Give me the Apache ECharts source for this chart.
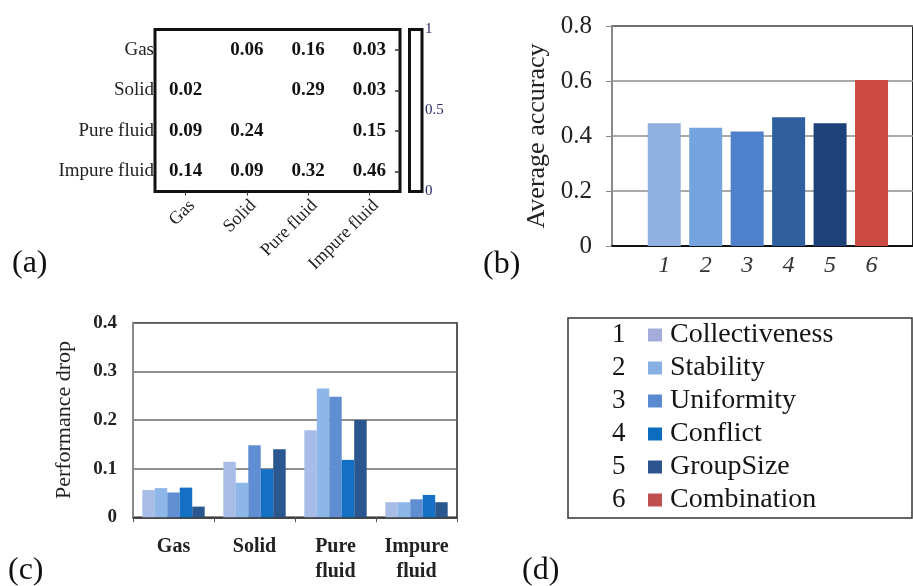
<!DOCTYPE html>
<html>
<head>
<meta charset="utf-8">
<script src="https://cdn.jsdelivr.net/npm/echarts@6/dist/echarts.min.js"></script>
<style>
  html, body { margin: 0; padding: 0; background: #fff; }
  #main { width: 913px; height: 586px; }
</style>
</head>
<body>
<div id="main"></div>
<script>
// (a) confusion matrix
var states = ['Gas', 'Solid', 'Pure fluid', 'Impure fluid'];
var confusion = [
    [null, 0.06, 0.16, 0.03],
    [0.02, null, 0.29, 0.03],
    [0.09, 0.24, null, 0.15],
    [0.14, 0.09, 0.32, 0.46]
];

// (b) average accuracy
var featureIds = [1, 2, 3, 4, 5, 6];
var featureNames = ['Collectiveness', 'Stability', 'Uniformity', 'Conflict', 'GroupSize', 'Combination'];
var accuracy = [0.446, 0.430, 0.416, 0.468, 0.446, 0.604];

// (c) performance drop per state
var stateLabels = ['Gas', 'Solid', 'Pure\nfluid', 'Impure\nfluid'];
var dropCollectiveness = [0.056, 0.114, 0.179, 0.031];
var dropStability = [0.060, 0.071, 0.265, 0.031];
var dropUniformity = [0.051, 0.148, 0.248, 0.037];
var dropConflict = [0.061, 0.099, 0.118, 0.046];
var dropGroupSize = [0.022, 0.140, 0.200, 0.031];

var colorsB = ['#8fb0e0', '#74a3de', '#4f80cc', '#2f5f9f', '#1f4179', '#cb4a42'];
var colorsC = ['#a7bce6', '#8db6e9', '#5f8fd2', '#1470c4', '#2b5790'];
var colorsLegend = ['#a3acdb', '#84b0e4', '#5a8ad0', '#0b6cc0', '#2c5590', '#c05050'];

var serif = '"Liberation Serif", "DejaVu Serif", serif';

var myChart = echarts.init(document.getElementById('main'));

var heatData = [];
confusion.forEach(function (row, r) {
    row.forEach(function (v, c) {
        if (v !== null) heatData.push([c, r, v]);
    });
});

var dropSeries = [dropCollectiveness, dropStability, dropUniformity, dropConflict, dropGroupSize];

var series = [{
    type: 'heatmap',
    xAxisIndex: 0,
    yAxisIndex: 0,
    data: heatData,
    label: {
        show: true,
        fontFamily: serif,
        fontWeight: 'bold',
        fontSize: 19,
        color: '#111',
        formatter: function (p) { return p.value[2].toFixed(2); }
    }
}, {
    // empty series so the colour bar axes get drawn
    type: 'line',
    xAxisIndex: 1,
    yAxisIndex: 1,
    data: []
}, {
    // empty series for the right-hand ticks of the matrix
    type: 'line',
    xAxisIndex: 0,
    yAxisIndex: 4,
    data: []
}];

featureNames.forEach(function (name, i) {
    series.push({
        name: name,
        type: 'bar',
        xAxisIndex: 2,
        yAxisIndex: 2,
        stack: 'acc',
        barWidth: 33,
        itemStyle: { color: colorsB[i] },
        data: [[featureIds[i], accuracy[i]]]
    });
});

dropSeries.forEach(function (vals, i) {
    series.push({
        name: featureNames[i],
        type: 'bar',
        xAxisIndex: 3,
        yAxisIndex: 3,
        barGap: '0%',
        barCategoryGap: '23%',
        itemStyle: { color: colorsC[i] },
        data: vals
    });
});

var graphics = [];
[['(a)', 12, 265], ['(b)', 483, 266], ['(c)', 8, 572], ['(d)', 522, 572]].forEach(function (t) {
    graphics.push({
        type: 'text', left: t[1], top: t[2] - 17,
        style: { text: t[0], font: '32px ' + serif, fill: '#111' }
    });
});
featureIds.forEach(function (id, i) {
    graphics.push({
        type: 'text', left: 612, top: 321 + i * 33,
        style: { text: String(id), font: '27px ' + serif, fill: '#151515' }
    });
});
graphics.push({
    type: 'rect',
    shape: { x: 568, y: 318, width: 344, height: 200 },
    style: { fill: 'none', stroke: '#333', lineWidth: 1.5 }
});

var option = {
    animation: false,
    textStyle: { fontFamily: serif },
    grid: [
        { left: 155, top: 29.5, width: 245, height: 162, show: true, borderColor: '#111', borderWidth: 3 },
        { left: 409.5, top: 29.5, width: 12.5, height: 162, show: true, borderColor: '#111', borderWidth: 3 },
        { left: 612, top: 26, width: 302, height: 220, show: true, borderColor: '#222', borderWidth: 2 },
        { left: 133, top: 322.7, width: 324, height: 194.6, show: true, borderColor: '#222', borderWidth: 1.5 }
    ],
    visualMap: {
        show: false,
        seriesIndex: 0,
        min: 0,
        max: 1,
        inRange: { color: ['rgba(255,255,255,0)', 'rgba(255,255,255,0)'] }
    },
    legend: {
        orient: 'vertical',
        left: 648,
        top: 321,
        padding: 0,
        itemGap: 5,
        itemWidth: 14,
        itemHeight: 13,
        selectedMode: false,
        textStyle: { fontFamily: serif, fontSize: 28, color: '#151515', lineHeight: 28, padding: [0, 0, 0, 3] },
        data: featureNames.map(function (n, i) {
            return { name: n, icon: 'rect', itemStyle: { color: colorsLegend[i] } };
        })
    },
    xAxis: [{
        type: 'category',
        gridIndex: 0,
        data: states,
        axisLine: { show: false },
        axisTick: { show: true, alignWithLabel: true, length: 4, lineStyle: { color: '#333' } },
        axisLabel: { rotate: 45, fontSize: 18, color: '#222', margin: 5, verticalAlign: 'top' }
    }, {
        type: 'category',
        gridIndex: 1,
        data: [''],
        show: false
    }, {
        type: 'value',
        gridIndex: 2,
        min: -0.26,
        max: 7,
        splitLine: { show: false },
        axisLine: { lineStyle: { color: '#111', width: 2 } },
        axisTick: { show: false },
        axisLabel: {
            customValues: featureIds,
            fontStyle: 'italic',
            fontSize: 24,
            color: '#333',
            margin: 8
        }
    }, {
        type: 'category',
        gridIndex: 3,
        data: stateLabels,
        axisLine: { lineStyle: { color: '#333', width: 1.5 } },
        axisTick: { show: true, length: 5, lineStyle: { color: '#555' } },
        axisLabel: { interval: 0, fontSize: 20, fontWeight: 'bold', color: '#222', margin: 17, lineHeight: 25 }
    }],
    yAxis: [{
        type: 'category',
        gridIndex: 0,
        inverse: true,
        data: states,
        axisLine: { show: false },
        axisTick: { show: false },
        axisLabel: { fontSize: 19, color: '#222', margin: 1 }
    }, {
        type: 'value',
        gridIndex: 1,
        position: 'right',
        min: 0,
        max: 1,
        interval: 0.5,
        splitLine: { show: false },
        axisLine: { show: false },
        axisTick: { show: false },
        axisLabel: { fontSize: 15, color: '#2a2a6a', margin: 3 }
    }, {
        type: 'value',
        gridIndex: 2,
        min: 0,
        max: 0.8,
        interval: 0.2,
        name: 'Average accuracy',
        nameLocation: 'middle',
        nameGap: 62,
        nameTextStyle: { fontSize: 26, color: '#222' },
        axisLine: { show: true, onZero: false, lineStyle: { color: '#8a8a8a', width: 2 } },
        axisTick: { show: true, length: 6, lineStyle: { color: '#8a8a8a' } },
        splitLine: { lineStyle: { color: '#8c8c8c', width: 1.5 } },
        axisLabel: { fontSize: 25, color: '#222', margin: 20 }
    }, {
        type: 'value',
        gridIndex: 3,
        min: 0,
        max: 0.4,
        interval: 0.1,
        name: 'Performance drop',
        nameLocation: 'middle',
        nameGap: 58,
        nameTextStyle: { fontSize: 22, color: '#222' },
        axisLine: { show: true, lineStyle: { color: '#8a8a8a', width: 2 } },
        axisTick: { show: false },
        splitLine: { lineStyle: { color: '#6a6a6a', width: 1.5 } },
        axisLabel: { fontSize: 19, fontWeight: 'bold', color: '#222', margin: 16 }
    }, {
        type: 'category',
        gridIndex: 0,
        position: 'right',
        inverse: true,
        data: states,
        axisLine: { show: false },
        axisTick: { show: true, inside: true, alignWithLabel: true, length: 5, lineStyle: { color: '#333', width: 1.5 } },
        axisLabel: { show: false }
    }],
    graphic: graphics,
    series: series
};

myChart.setOption(option);
</script>
</body>
</html>
